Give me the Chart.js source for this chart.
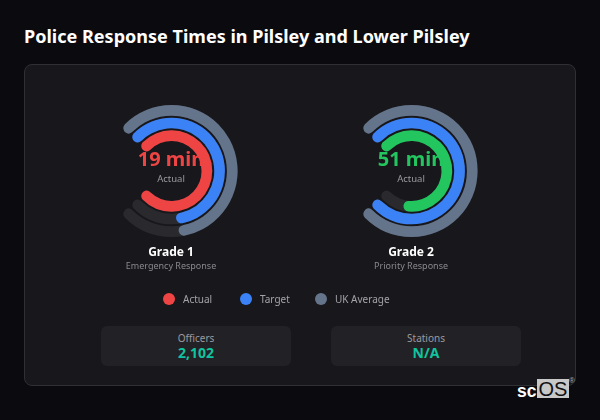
<!DOCTYPE html>
<html>
<head>
<meta charset="utf-8">
<script src="https://cdn.jsdelivr.net/npm/chart.js@4"></script>
<style>
  html, body { margin: 0; padding: 0; }
  body { width: 600px; height: 420px; background: #0a0a0f; overflow: hidden; position: relative; font-family: "Noto Sans", sans-serif; }
  h1 { position: absolute; left: 24px; top: 23px; margin: 0; font-size: 18.04px; line-height: 26px; font-weight: 700; color: #fff; white-space: nowrap; }
  .card { position: absolute; left: 24px; top: 64px; width: 550px; height: 320px; background: #18181c; border: 1px solid #303034; border-radius: 8px; }
  canvas { position: absolute; top: 105px; }
  .txt { position: absolute; transform: translateX(-50%); white-space: nowrap; text-align: center; }
  .value { top: 145px; font-size: 20px; line-height: 28px; font-weight: 700; }
  .actual { top: 172px; font-size: 9.5px; line-height: 14px; color: #9a9a9f; }
  .grade { top: 243px; font-size: 12px; line-height: 17px; font-weight: 700; color: #fff; }
  .sub { top: 259px; font-size: 9px; line-height: 14px; color: #88888d; }
  .dot { position: absolute; top: 293px; width: 12px; height: 12px; border-radius: 50%; }
  .leg { position: absolute; top: 291px; font-size: 10px; line-height: 16px; color: #a4a4a8; white-space: nowrap; }
  .stat { position: absolute; top: 326px; width: 190px; height: 40px; background: #222226; border-radius: 6px; text-align: center; }
  .stat div:first-child { font-size: 10px; line-height: 14px; margin-top: 5px; color: #9a9a9f; }
  .stat div:last-child { font-size: 14px; line-height: 16px; font-weight: 700; color: #10c49f; }
  .logo { position: absolute; left: 517px; top: 379px; height: 19px; font-family: "Liberation Sans", sans-serif; font-size: 20px; line-height: 23px; color: #fff; white-space: nowrap; }
  .logo b { font-weight: 700; position: absolute; left: 0; top: 1px; font-size: 17.5px; line-height: 23px; }
  .logo span { position: absolute; left: 20px; top: 0; width: 32px; height: 19px; line-height: 20px; background: #c8c8c8; color: #111; text-align: center; overflow: hidden; }
  .logo i { position: absolute; left: 52px; top: -3px; font-style: normal; font-size: 8px; line-height: 10px; color: #aaa; }
</style>
</head>
<body>
<h1 id="titulo"></h1>
<div class="card"></div>
<div class="logo"><b>sc</b><span>OS</span><i>®</i></div>
<script>
const titulo = "Police Response Times in Pilsley and Lower Pilsley";
const grades = ["Grade 1", "Grade 2"];
const subtitles = ["Emergency Response", "Priority Response"];
const actual = [19, 51];
const target = [15, 60];
const ukAverage = [15, 60];
const actualColors = ["#ef4444", "#22c55e"];
const seriesNames = ["Actual", "Target", "UK Average"];
const statLabels = ["Officers", "Stations"];
const statValues = ["2,102", "N/A"];

const BLUE = "#3b82f6";
const GRAY = "#64748b";
const TRACK = "#2a2a2e";
const RING = 10.67;
const GAP = 2;
const SWEEP = 270;
const START = -45;
const RAIOS = [60.7, 48, 35.3]; // centre line of each ring

// round ends stick out past the arc, chart.js draws them inside, so widen each arc
function folga(r) {
  return (RING / 2 / r) * 180 / Math.PI;
}

function addText(cls, text, x, color) {
  const el = document.createElement("div");
  el.className = cls;
  el.textContent = text;
  if (x !== null) el.style.left = x + "px";
  if (color) el.style.color = color;
  document.body.appendChild(el);
  return el;
}

function addCanvas(left) {
  const c = document.createElement("canvas");
  c.width = 132;
  c.height = 132;
  c.style.left = left + "px";
  document.body.appendChild(c);
  return c;
}

function desenhaAneis(canvas, rings) {
  const maior = folga(RAIOS[2]);
  // empty dataset fixes the rotation extents, so every chart gets the same centre
  const datasets = [{ data: [], weight: 0, rotation: START - maior, circumference: SWEEP + 2 * maior }];
  rings.forEach((r, i) => {
    const p = folga(RAIOS[i]);
    // gap between rings is an empty dataset with its own weight
    if (i > 0) datasets.push({ data: [], weight: GAP, rotation: START, circumference: SWEEP });
    datasets.push({
      data: [r.value],
      backgroundColor: r.color,
      borderWidth: 0,
      borderRadius: RING / 2,
      weight: RING,
      rotation: START - p,
      circumference: r.frac * SWEEP + 2 * p
    });
  });
  return new Chart(canvas, {
    type: "doughnut",
    data: { datasets },
    options: {
      responsive: false,
      animation: false,
      cutout: 30,
      plugins: { legend: { display: false }, tooltip: { enabled: false } }
    }
  });
}

document.getElementById("titulo").textContent = titulo;

grades.forEach((g, i) => {
  const cx = 171 + i * 240;
  const left = 112 + i * 240;
  const max = Math.max(actual[i], target[i], ukAverage[i]);

  // dark track under the coloured arcs, so their round ends sit on top of it
  desenhaAneis(addCanvas(left), [
    { value: 1, frac: 1, color: TRACK },
    { value: 1, frac: 1, color: TRACK },
    { value: 1, frac: 1, color: TRACK }
  ]);
  desenhaAneis(addCanvas(left), [
    { value: ukAverage[i], frac: ukAverage[i] / max, color: GRAY },
    { value: target[i], frac: target[i] / max, color: BLUE },
    { value: actual[i], frac: actual[i] / max, color: actualColors[i] }
  ]);

  addText("txt value", actual[i] + " min", cx, actualColors[i]);
  addText("txt actual", seriesNames[0], cx);
  addText("txt grade", g, cx);
  addText("txt sub", subtitles[i], cx);
});

const legendX = [163, 240, 315];
const legendColors = [actualColors[0], BLUE, GRAY];
seriesNames.forEach((n, i) => {
  const d = addText("dot", "", legendX[i]);
  d.style.background = legendColors[i];
  addText("leg", n, legendX[i] + 20);
});

statLabels.forEach((s, i) => {
  const box = document.createElement("div");
  box.className = "stat";
  box.style.left = (101 + i * 230) + "px";
  const a = document.createElement("div");
  a.textContent = s;
  const b = document.createElement("div");
  b.textContent = statValues[i];
  box.appendChild(a);
  box.appendChild(b);
  document.body.appendChild(box);
});
</script>
</body>
</html>
